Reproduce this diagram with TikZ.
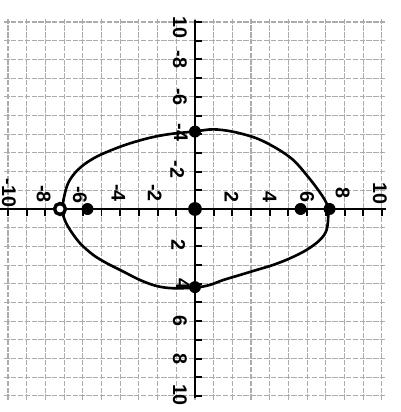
\documentclass[tikz,border=0pt]{standalone}
\usepackage{fontspec}
\setmainfont{Liberation Sans}

\begin{document}
\begin{tikzpicture}[
  x=0.5cm, y=0.5cm,
  gridline/.style={draw=gray!65, line width=0.85pt, dash pattern=on 4pt off 1.2pt},
  axis/.style={line width=2.2pt},
  ticks/.style={line width=1.5pt},
  num/.style={font=\fontsize{15}{17}\selectfont\bfseries, rotate=-90, inner sep=0pt},
  ptdot/.style={circle, fill=black, inner sep=0pt, minimum size=3.2mm},
  ring/.style={circle, draw=black, fill=white, line width=2.6pt, inner sep=0pt, minimum size=2.9mm},
  egg/.style={line width=2pt, line join=round}
]
\useasboundingbox (-10.43,-10.86) rectangle (11.02,11.18);
\fill[white] (-10.43,-10.86) rectangle (11.02,11.18);

% grid paper
\draw[gridline, step=0.5cm] (-10.2,-10.2) grid (10.25,10.2);

% axes with ticks
\draw[axis] (-10.6,0) -- (10.2,0);
\draw[axis] (0,-10.1) -- (0,10.12);
\foreach \k in {-10,...,10} {
  \draw[ticks] (\k,0) -- (\k,-0.37);
  \draw[ticks] (0,\k) -- (0.38,\k);
}

% numbers on the horizontal axis
\node[num] (xa) at (-9.95,0.85) {-10};
\node[num] (xb) at (-8.1,0.8) {-8};
\node[num] (xc) at (-6.15,0.75) {-6};
\node[num] (xd) at (-4.1,0.85) {-4};
\node[num] (xe) at (-2.15,0.85) {-2};
\node[num] (xf) at (1.95,0.66) {2};
\node[num] (xg) at (4.0,0.64) {4};
\node[num] (xh) at (6.0,0.64) {6};
\node[num] (xi) at (7.9,0.85) {8};
\node[num] (xj) at (9.9,0.85) {10};

% numbers on the vertical axis
\node[num] (ya) at (-0.8,9.7) {10};
\node[num] (yb) at (-0.8,8.0) {-8};
\node[num] (yc) at (-0.8,6.0) {-6};
\node[num] (yd) at (-0.75,4.1) {-4};
\node[num] (ye) at (-0.95,2.1) {-2};
\node[num] (yf) at (-0.9,-1.95) {2};
\node[num] (yg) at (-0.65,-4.0) {4};
\node[num] (yh) at (-0.8,-6.0) {6};
\node[num] (yi) at (-0.8,-8.0) {8};
\node[num] (yj) at (-0.8,-9.95) {10};

% the closed curve
\draw[egg] plot[smooth cycle, tension=0.55] coordinates {
  (0,4.15) (0.98,4.26) (2.05,4.13) (3.3,3.78) (4.37,3.24) (5.26,2.62)
  (5.97,1.82) (6.59,1.02) (7.04,0.3) (7.13,-0.3) (7.04,-1.12)
  (6.68,-1.66) (5.97,-2.19) (5.08,-2.64) (4.19,-2.99) (3.3,-3.26)
  (2.41,-3.53) (1.51,-3.8) (0.8,-4.06) (0.05,-4.2) (-1.16,-4.24)
  (-2.05,-4.12) (-2.94,-3.8) (-3.83,-3.35) (-4.72,-2.9) (-5.44,-2.46)
  (-6.15,-1.83) (-6.68,-1.12) (-6.98,-0.55) (-7.1,0.05) (-6.86,1.19)
  (-6.51,1.82) (-5.97,2.35) (-5.26,2.8) (-4.37,3.19) (-3.48,3.51)
  (-2.41,3.81) (-1.34,4.01)};

% marked points
\node[ptdot] (top) at (0,4.14) {};
\node[ptdot] (bot) at (0,-4.18) {};
\node[ptdot, minimum size=3.7mm] (ctr) at (0,0) {};
\node[ptdot] (rv) at (7.2,0) {};
\node[ptdot] (rf) at (5.65,0) {};
\node[ptdot] (lf) at (-5.75,0) {};
\node[ring] (lv) at (-7.22,0) {};
\end{tikzpicture}
\end{document}
